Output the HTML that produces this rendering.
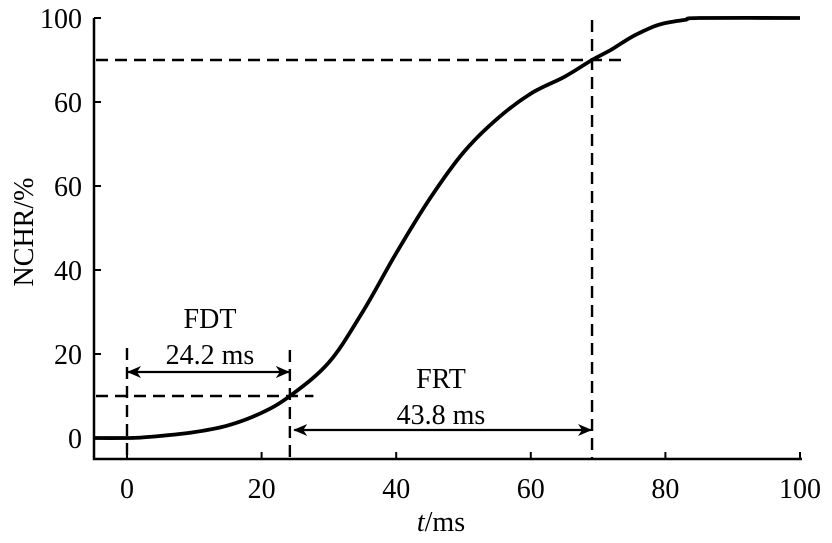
<!DOCTYPE html>
<html><head><meta charset="utf-8"><style>
body{margin:0;background:#fff}
svg text{font-family:"Liberation Serif",serif;fill:#000}
</style></head><body>
<svg id="chart" width="832" height="538" viewBox="0 0 832 538" xmlns="http://www.w3.org/2000/svg">
<defs>
<marker id="ah" markerWidth="14" markerHeight="12" refX="13" refY="6" orient="auto-start-reverse" markerUnits="userSpaceOnUse">
<path d="M0,0 L14,6 L0,12 L4,6 Z" fill="#000"/></marker>
</defs>
<g id="axes"></g><g id="marks"></g>
</svg>
<script>
const xTicks=[0,20,40,60,80,100];
const yTickValues=[0,20,40,60,80,100];
const yTickLabels=["0","20","40","60","60","100"];
const tValues=[-5,0,2,5,10,15,20,24.2,30,35,40,45,50,55,60,65,69.1,72,75,78,80,83,85,100];
const nchrValues=[0,0,0.1,0.5,1.4,3,6,10,18,30,44,57,68,76,82,86,90,92.5,95.5,97.8,98.8,99.6,100,100];
const fdtValue=24.2, frtValue=43.8, lowLevel=10, highLevel=90;
const frtEnd=69.1;
const X=v=>127+v*6.73, Y=v=>438-v*4.2;
const NS="http://www.w3.org/2000/svg";
const ax=document.getElementById('axes'), mk=document.getElementById('marks');
function el(tag,attrs,parent,text){const e=document.createElementNS(NS,tag);for(const k in attrs)e.setAttribute(k,attrs[k]);if(text!==undefined)e.textContent=text;parent.appendChild(e);return e;}
let e;
const FS=28;
e=el('path',{d:`M94,18 V459 H802`,fill:'none',stroke:'#000','stroke-width':2.5},ax);


xTicks.forEach(v=>{
 e=el('line',{x1:X(v),x2:X(v),y1:459,y2:452,stroke:'#000','stroke-width':2},ax);
 
 
 e=el('text',{x:X(v),y:498,'font-size':FS,'text-anchor':'middle'},ax,String(v));
 
 
});
yTickValues.forEach((v,i)=>{
 e=el('line',{x1:94,x2:101,y1:Y(v),y2:Y(v),stroke:'#000','stroke-width':2},ax);
 
 
 e=el('text',{x:82,y:Y(v)+10,'font-size':FS,'text-anchor':'end'},ax,yTickLabels[i]);
 
 
});
e=el('text',{x:0,y:0,'font-size':FS,'text-anchor':'middle',transform:'translate(33,232) rotate(-90)'},ax,'NCHR/%');


e=el('text',{x:441,y:531,'font-size':FS,'text-anchor':'middle'},ax);


el('tspan',{'font-style':'italic'},e,'t');el('tspan',{},e,'/ms');
const dash={stroke:'#000','stroke-width':2.4,'stroke-dasharray':'12,7',fill:'none'};
function dl(x1,y1,x2,y2,name){e=el('line',Object.assign({x1,y1,x2,y2},dash),mk);
 
 }
dl(X(0),348,X(0),459,'fdt-start-line');
dl(X(fdtValue),350,X(fdtValue),459,'fdt-end-line');
dl(96,Y(lowLevel),X(27.7),Y(lowLevel),'low-level-line');
dl(96,Y(highLevel),X(74),Y(highLevel),'high-level-line');
dl(X(frtEnd),20,X(frtEnd),459,'frt-end-line');
// smooth Catmull-Rom path
const P=tValues.map((t,i)=>[X(t),Y(nchrValues[i])]);
let d='M'+P[0][0]+','+P[0][1];
for(let i=0;i<P.length-1;i++){const p0=P[Math.max(0,i-1)],p1=P[i],p2=P[i+1],p3=P[Math.min(P.length-1,i+2)];
 const c1=[p1[0]+(p2[0]-p0[0])/6,p1[1]+(p2[1]-p0[1])/6],c2=[p2[0]-(p3[0]-p1[0])/6,p2[1]-(p3[1]-p1[1])/6];
 d+=` C${c1[0].toFixed(1)},${c1[1].toFixed(1)} ${c2[0].toFixed(1)},${c2[1].toFixed(1)} ${p2[0].toFixed(1)},${p2[1].toFixed(1)}`;}
e=el('path',{d,fill:'none',stroke:'#000','stroke-width':3.8,'stroke-linejoin':'round'},mk);


e=el('line',{x1:X(0)+1,y1:372,x2:X(fdtValue)-1,y2:372,stroke:'#000','stroke-width':2.2,'marker-start':'url(#ah)','marker-end':'url(#ah)'},mk);


e=el('line',{x1:X(fdtValue+0.5)+1,y1:430,x2:X(frtEnd)-1,y2:430,stroke:'#000','stroke-width':2.2,'marker-start':'url(#ah)','marker-end':'url(#ah)'},mk);


e=el('text',{x:210,y:328,'font-size':FS,'text-anchor':'middle'},mk,'FDT');


e=el('text',{x:210,y:364,'font-size':FS,'text-anchor':'middle'},mk,fdtValue.toFixed(1)+' ms');


e=el('text',{x:441,y:388,'font-size':FS,'text-anchor':'middle'},mk,'FRT');


e=el('text',{x:441,y:424,'font-size':FS,'text-anchor':'middle'},mk,frtValue.toFixed(1)+' ms');


</script>
</body></html>
